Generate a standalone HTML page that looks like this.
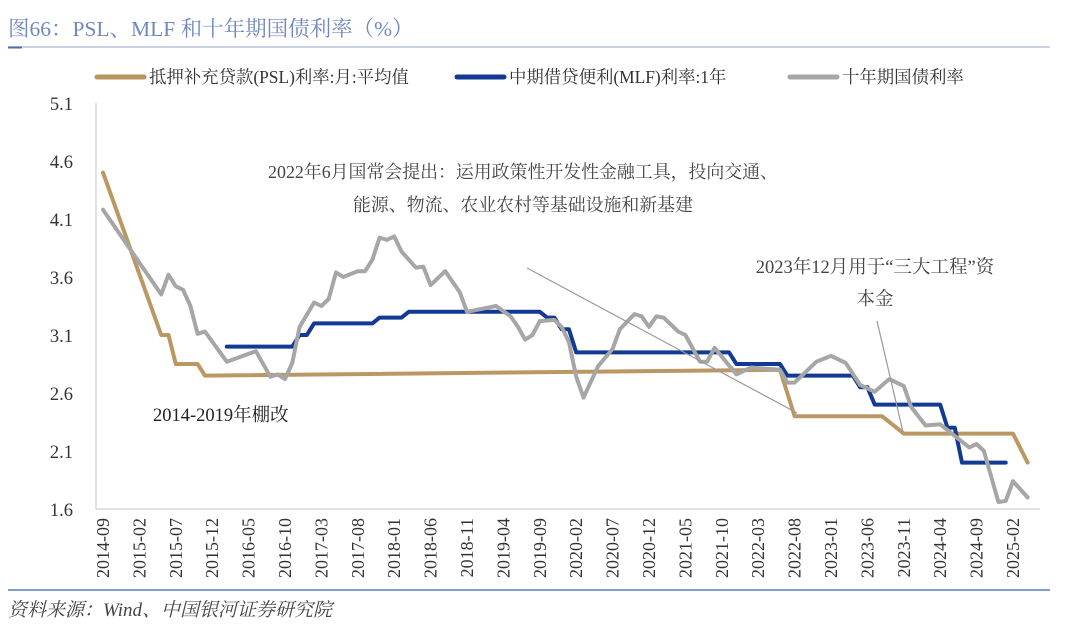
<!DOCTYPE html>
<html><head><meta charset="utf-8">
<style>
body{margin:0;background:#fff;width:1080px;height:624px;overflow:hidden}
svg{display:block}
text{font-family:"Liberation Serif","Noto Serif CJK SC","Noto Sans CJK SC",serif}
</style></head>
<body>
<svg id="chart" width="1080" height="624" viewBox="0 0 1080 624" xmlns="http://www.w3.org/2000/svg">
<text x="8" y="36" font-size="21.5" fill="#7088c0">图66：PSL、MLF 和十年期国债利率（%）</text>
<line x1="8" y1="47" x2="1050" y2="47" stroke="#a9b7d6" stroke-width="1.2"/>
<line x1="8" y1="47.5" x2="22" y2="47.5" stroke="#4a6bb0" stroke-width="2"/>
<g>
<line x1="97" y1="77" x2="144" y2="77" stroke="#b8955f" stroke-width="5" stroke-linecap="round"/>
<text x="149" y="83" font-size="17.4" fill="#333">抵押补充贷款(PSL)利率:月:平均值</text>
<line x1="457" y1="77" x2="504" y2="77" stroke="#123a94" stroke-width="5" stroke-linecap="round"/>
<text x="509" y="83" font-size="17.4" fill="#333">中期借贷便利(MLF)利率:1年</text>
<line x1="790" y1="77" x2="837" y2="77" stroke="#a6a6a6" stroke-width="5" stroke-linecap="round"/>
<text x="842" y="83" font-size="17.4" fill="#333">十年期国债利率</text>
</g>
<g id="axes"></g>
<g id="series"></g>
<g fill="#444">
<text x="523" y="178" font-size="17.9" text-anchor="middle">2022年6月国常会提出：运用政策性开发性金融工具，投向交通、</text>
<text x="523" y="211" font-size="17.9" text-anchor="middle">能源、物流、农业农村等基础设施和新基建</text>
<line x1="527" y1="268" x2="797" y2="413" stroke="#999" stroke-width="1.2"/>
<text x="875" y="273" font-size="18.5" text-anchor="middle">2023年12月用于“三大工程”资</text>
<text x="875" y="305" font-size="18.5" text-anchor="middle">本金</text>
<line x1="877" y1="321" x2="903" y2="432" stroke="#999" stroke-width="1.2"/>
<text x="153" y="421" font-size="18.5" fill="#222">2014-2019年棚改</text>
</g>
<line x1="8" y1="590" x2="1050" y2="590" stroke="#5a7cc0" stroke-width="1.5"/>
<text x="8" y="616" font-size="19" font-style="italic" fill="#444">资料来源：Wind、中国银河证券研究院</text>
</svg>
<script>
// months since 2014-09
const yTicks = [1.6, 2.1, 2.6, 3.1, 3.6, 4.1, 4.6, 5.1];
const xTickLabels = ["2014-09","2015-02","2015-07","2015-12","2016-05","2016-10","2017-03","2017-08","2018-01","2018-06","2018-11","2019-04","2019-09","2020-02","2020-07","2020-12","2021-05","2021-10","2022-03","2022-08","2023-01","2023-06","2023-11","2024-04","2024-09","2025-02"];
const pslMonths = [0, 8, 9, 10, 13, 14, 93, 95, 107, 110, 125, 127];
const pslValues = [4.5, 3.1, 3.1, 2.85, 2.85, 2.75, 2.8, 2.4, 2.4, 2.25, 2.25, 2.0];
const mlfMonths = [17, 26, 27, 28, 29, 37, 38, 41, 42, 60, 61, 62, 63, 64, 65, 86, 87, 93, 94, 103, 104, 105, 106, 115, 116, 117, 118, 124];
const mlfValues = [3.0, 3.0, 3.1, 3.1, 3.2, 3.2, 3.25, 3.25, 3.3, 3.3, 3.25, 3.25, 3.15, 3.15, 2.95, 2.95, 2.85, 2.85, 2.75, 2.75, 2.65, 2.65, 2.5, 2.5, 2.3, 2.3, 2.0, 2.0];
const cgbMonths = [0, 8, 9, 10, 11, 12, 13, 14, 17, 21, 23, 24, 25, 26, 27, 29, 30, 31, 32, 33, 35, 36, 37, 38, 39, 40, 41, 43, 44, 45, 47, 49, 50, 54, 56, 57, 58, 59, 60, 62, 63, 64, 65, 66, 68, 70, 71, 73, 74, 75, 76, 77, 79, 80, 82, 83, 84, 87, 89, 93, 94, 95, 98, 100, 102, 104, 106, 108, 110, 111, 113, 115, 117, 119, 120, 121, 123, 124, 125, 127];
const cgbValues = [4.18, 3.45, 3.62, 3.52, 3.49, 3.35, 3.11, 3.13, 2.87, 2.96, 2.74, 2.76, 2.72, 2.86, 3.17, 3.38, 3.35, 3.41, 3.64, 3.60, 3.65, 3.65, 3.75, 3.94, 3.92, 3.95, 3.82, 3.68, 3.69, 3.53, 3.65, 3.47, 3.30, 3.35, 3.26, 3.17, 3.06, 3.10, 3.22, 3.23, 3.17, 3.04, 2.74, 2.56, 2.83, 2.98, 3.15, 3.28, 3.26, 3.17, 3.26, 3.25, 3.13, 3.10, 2.87, 2.87, 2.99, 2.76, 2.82, 2.80, 2.69, 2.69, 2.87, 2.92, 2.86, 2.67, 2.61, 2.72, 2.66, 2.48, 2.32, 2.33, 2.23, 2.13, 2.16, 2.10, 1.66, 1.67, 1.84, 1.70];

const NS = "http://www.w3.org/2000/svg";
const X0 = 103, PX_PER_MONTH = 7.28;
const Y_TOP = 103, Y_BOT = 509, V_MIN = 1.6, V_MAX = 5.1;
function xScale(m){ return X0 + m * PX_PER_MONTH; }
function yScale(v){ return Y_BOT - (v - V_MIN) / (V_MAX - V_MIN) * (Y_BOT - Y_TOP); }
function mk(tag, attrs){ const e = document.createElementNS(NS, tag); for (const k in attrs) e.setAttribute(k, attrs[k]); return e; }

const axes = document.getElementById('axes');
const yAxis = mk('line', {x1: 96, y1: Y_TOP, x2: 96, y2: Y_BOT, stroke: '#d0d0d0', 'stroke-width': 1.2});


axes.appendChild(yAxis);
const xAxis = mk('line', {x1: 96, y1: Y_BOT, x2: 1040, y2: Y_BOT, stroke: '#d0d0d0', 'stroke-width': 1.2});


axes.appendChild(xAxis);
yTicks.forEach(v => {
  const t = mk('text', {x: 73, y: yScale(v) + 7, 'font-size': 18.5, fill: '#333', 'text-anchor': 'end'});
  t.textContent = v.toFixed(1);
  
  
  axes.appendChild(t);
});
xTickLabels.forEach((lab, i) => {
  const x = xScale(i * 5) + 6;
  const t = mk('text', {x: x, y: 518, 'font-size': 18, fill: '#333', 'text-anchor': 'end', transform: `rotate(-90 ${x} 518)`});
  t.textContent = lab;
  
  
  axes.appendChild(t);
});

const series = document.getElementById('series');
function drawLine(months, values, color, name){
  const d = months.map((m, i) => (i ? 'L' : 'M') + xScale(m).toFixed(1) + ' ' + yScale(values[i]).toFixed(1)).join(' ');
  const p = mk('path', {d: d, fill: 'none', stroke: color, 'stroke-width': 4, 'stroke-linejoin': 'round', 'stroke-linecap': 'round'});
  
  
  series.appendChild(p);
}
drawLine(pslMonths, pslValues, '#bb9863', 'psl-line');
drawLine(mlfMonths, mlfValues, '#123a94', 'mlf-line');
drawLine(cgbMonths, cgbValues, '#a6a6a6', 'cgb-10y-line');
</script>
</body></html>
